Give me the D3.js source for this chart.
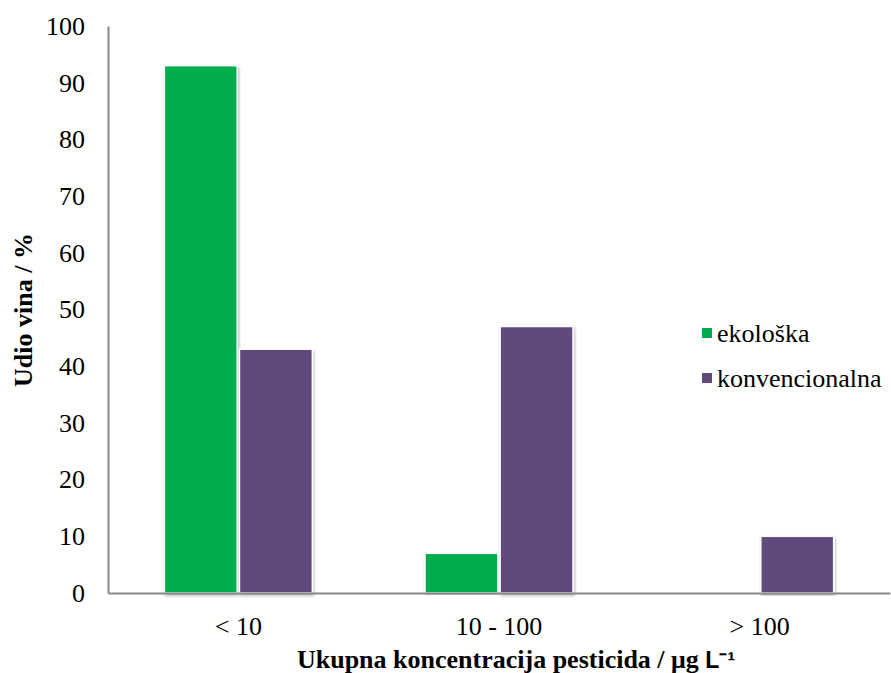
<!DOCTYPE html>
<html><head><meta charset="utf-8">
<script src="https://cdn.jsdelivr.net/npm/d3@7"></script>
<style>body{margin:0;background:#fff}svg{display:block}</style>
</head><body>
<svg id="c" width="891" height="673"></svg>
<script>
const categories = ["< 10", "10 - 100", "> 100"];
const seriesNames = ["ekološka", "konvencionalna"];
const ekoloska = [93, 7, 0];
const konvencionalna = [43, 47, 10];
const yTicks = [0,10,20,30,40,50,60,70,80,90,100];
const colors = ["#00AD4E", "#604A7B"];

const SERIF = "'Liberation Serif', 'Times New Roman', serif";
const svg = d3.select("#c");
const mLeft = 108, mRight = 890, mTop = 26, mBottom = 593;
const x = d3.scaleBand().domain(categories).range([mLeft, mRight]);
const y = d3.scaleLinear().domain([0, 100]).range([mBottom, mTop]);
const inner = d3.scaleBand().domain(seriesNames).range([0, x.bandwidth()]).paddingInner(0.03).paddingOuter(0.75);

const defs = svg.append("defs");
const f = defs.append("filter").attr("id","sh").attr("x","-20%").attr("y","-5%").attr("width","140%").attr("height","110%");
f.append("feGaussianBlur").attr("in","SourceAlpha").attr("stdDeviation",1.5).attr("result","b");
f.append("feOffset").attr("in","b").attr("dx",1).attr("dy",1.5).attr("result","o");
f.append("feComponentTransfer").attr("in","o").attr("result","oa").append("feFuncA").attr("type","linear").attr("slope",0.3);
const mg = f.append("feMerge"); mg.append("feMergeNode").attr("in","oa"); mg.append("feMergeNode").attr("in","SourceGraphic");

const data = [];
categories.forEach((c,i)=>{
  [ekoloska, konvencionalna].forEach((arr,j)=>{
    if (arr[i] > 0) data.push({c, s: seriesNames[j], v: arr[i], col: colors[j]});
  });
});

svg.append("g").selectAll("rect").data(data).join("rect")
  .attr("x", d => x(d.c) + inner(d.s))
  .attr("width", inner.bandwidth())
  .attr("y", d => y(d.v))
  .attr("height", d => y(0) - y(d.v))
  .attr("fill", d => d.col)
  .attr("stroke", "#fff").attr("stroke-width", 1.5)
  .attr("filter", "url(#sh)");

// axes
const yAxis = svg.append("g").attr("transform", `translate(${mLeft},0)`)
  .call(d3.axisLeft(y).tickValues(yTicks).tickSize(0).tickPadding(23).tickFormat(d3.format("d")));
yAxis.select(".domain").attr("stroke", "#888").attr("stroke-width", 2);
yAxis.selectAll("text").style("font-family", SERIF).style("font-size", "26px").attr("fill", "#000");

const xAxis = svg.append("g").attr("transform", `translate(0,${mBottom})`)
  .call(d3.axisBottom(x).tickSize(0).tickPadding(24));
xAxis.select(".domain").attr("stroke", "#888").attr("stroke-width", 2);
xAxis.selectAll("text").style("font-family", SERIF).style("font-size", "26px").attr("fill", "#000");

// titles
const xt = svg.append("text").attr("x", 516).attr("y", 668).attr("text-anchor","middle")
  .style("font-family", SERIF).style("font-weight","bold").style("font-size","26px");
xt.append("tspan").text("Ukupna koncentracija pesticida / μg ");
xt.append("tspan").style("font-family","'Liberation Sans', Arial, sans-serif").style("font-size","23px").text("L⁻¹");
svg.append("text").attr("transform","translate(32,310) rotate(-90)").attr("text-anchor","middle")
  .style("font-family", SERIF).style("font-weight","bold").style("font-size","26px")
  .text("Udio vina / %");

// legend
const lg = svg.append("g");
seriesNames.forEach((s,i)=>{
  const yy = 333 + i*45;
  lg.append("rect").attr("x",702).attr("y",yy-5).attr("width",10).attr("height",10).attr("fill",colors[i]);
  lg.append("text").attr("x",717).attr("y",yy+9).style("font-family", SERIF).style("font-size","26px").attr("fill","#000").text(s);
});
</script>
</body></html>
